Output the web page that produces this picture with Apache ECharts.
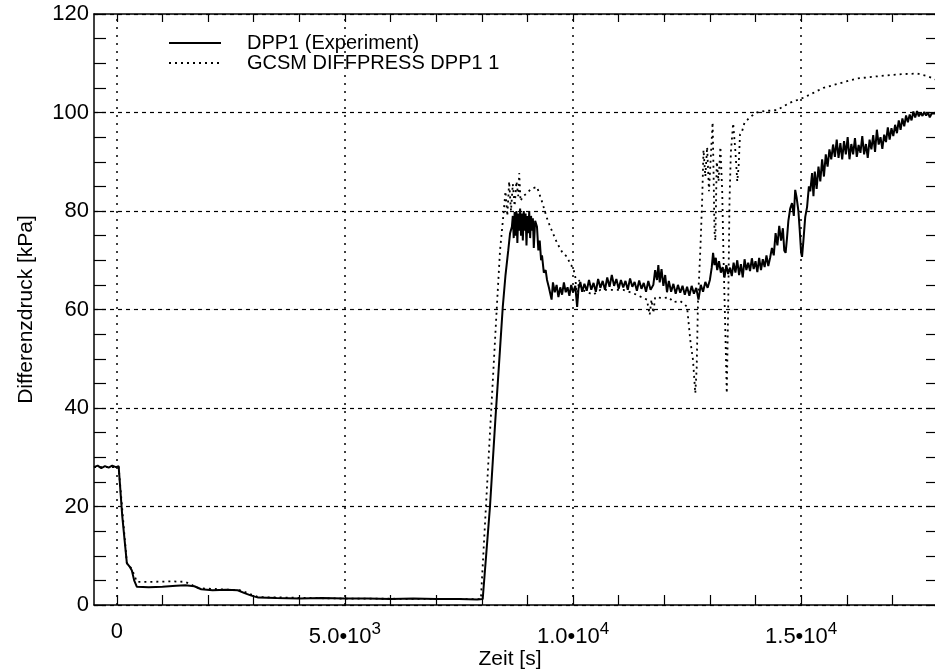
<!DOCTYPE html>
<html><head><meta charset="utf-8">
<script src="https://cdn.jsdelivr.net/npm/echarts@6/dist/echarts.min.js"></script>
<style>html,body{margin:0;padding:0;background:#fff}#c{width:935px;height:671px}</style>
</head><body><div id="c"></div>
<script>
const seriesNames = ['DPP1 (Experiment)', 'GCSM DIFFPRESS DPP1 1'];
const xLabelValues = [0, 5000, 10000, 15000];
const xLabelBase = ['0', '5.0•10', '1.0•10', '1.5•10'];
const xLabelExp = ['', '3', '4', '4'];
const xTickValues = [0,1000,2000,3000,4000,5000,6000,7000,8000,9000,10000,11000,12000,13000,14000,15000,16000,17000];

const expData = [
[-500,28.0],[-420,28.3],[-340,27.8],[-260,28.2],[-180,27.9],[-100,28.3],[-20,28.0],[40,28.2],[120,18],[220,8.5],[280,7.8],[330,7.0],[380,5.0],[440,3.7],[700,3.6],[1000,3.7],[1300,3.9],[1500,4.0],[1700,3.8],[1850,3.2],[2100,3.0],[2400,3.1],[2650,3.0],[2800,2.4],[2950,1.9],[3100,1.5],[3500,1.4],[4000,1.3],[4500,1.4],[5000,1.3],[5500,1.3],[6000,1.2],[6500,1.3],[7000,1.2],[7500,1.2],[7900,1.1],[8020,1.2],
[8180,20],[8300,38],[8400,52],[8460,60.5],[8520,67],[8580,72],[8620,75.5],[8660,76.8],
[8680,79],[8700,74.5],[8720,79.8],[8740,75],[8760,80],[8780,73.5],[8800,79.5],[8820,76],[8840,80.5],[8860,75],[8880,79.5],[8900,74],[8920,80],[8940,76],[8960,79.5],[8980,73],[9000,79],[9020,75.5],[9040,80],[9060,74.5],[9080,79],[9100,76],[9120,78.5],[9140,72.5],[9170,78],[9210,76.8],[9240,72],[9270,74],[9300,70],[9320,71],[9360,67.5],[9400,68],[9430,66],[9470,64.5],[9500,64.3],[9530,62],[9560,65.5],[9600,63.5],[9640,65],[9680,62.5],[9720,64.5],[9760,63],[9800,65.5],[9840,63.5],[9880,64.5],[9920,62.8],[9960,65],
[10000,63.5],[10050,64.8],[10090,60.5],[10120,64.2],[10160,65.6],[10200,63.6],[10250,65.2],[10300,63.8],[10350,66.0],[10400,64.0],[10450,65.4],[10500,63.6],[10550,66.2],[10600,64.4],[10650,65.8],[10700,64.0],[10750,66.5],[10800,64.6],[10850,67.0],[10900,64.8],[10950,66.2],[11000,64.2],[11050,66.0],[11100,64.5],[11150,65.8],[11200,64.0],[11250,66.3],[11300,64.6],[11350,65.6],[11400,63.8],[11450,65.9],[11500,64.2],[11550,65.4],[11600,63.6],[11650,65.8],[11700,64.0],[11760,65.0],[11800,68.0],[11840,66.0],[11870,69.0],[11900,65.5],[11940,68.2],[11980,64.8],[12020,67.0],[12060,63.5],[12100,65.8],[12150,63.6],[12200,65.2],[12250,63.2],[12300,65.0],[12350,63.4],[12400,64.8],[12450,63.0],[12500,64.6],[12550,62.8],[12600,64.8],[12650,63.2],[12700,64.4],[12750,62.0],[12800,65.0],[12850,63.6],[12900,65.6],[12950,64.4],[13000,66.0],
[13040,68.5],[13070,71.5],[13100,69.0],[13130,70.5],[13160,68.0],[13200,69.8],[13240,67.5],[13280,68.6],[13320,66.5],[13360,69.0],[13400,67.2],[13440,68.5],[13480,66.8],[13520,69.5],[13560,67.5],[13600,70.0],[13640,67.0],[13680,69.2],[13720,66.5],[13760,70.2],[13800,68.0],[13840,69.5],[13880,67.8],[13920,70.4],[13960,68.2],[14000,69.8],[14040,67.6],[14080,70.5],[14120,68.0],[14160,70.2],[14200,68.6],[14240,71.0],[14280,68.8],[14320,70.5],[14360,72.5],[14400,71.0],[14440,75.5],[14480,73.0],[14520,77.0],[14560,74.0],[14600,76.5],[14630,72.0],[14660,71.5],[14690,74.5],[14720,78.0],[14760,80.5],[14800,81.6],[14840,79.0],[14870,84.3],[14900,82.8],[14940,80.0],[14970,76.0],[15000,71.5],[15020,70.7],[15050,74.0],[15090,78.8],[15130,80.8],[15170,85.0],[15200,84.0],[15240,87.7],[15270,83.0],[15300,88.0],[15340,84.5],[15380,89.0],[15420,86.0],[15460,90.5],[15500,87.0],[15540,91.5],[15580,89.0],[15620,92.5],[15660,90.5],[15700,93.5],[15740,91.0],[15780,94.5],[15820,90.8],[15860,93.8],[15900,90.5],[15940,94.2],[15980,91.5],[16020,95.0],[16060,90.5],[16100,93.6],[16140,91.5],[16180,94.8],[16220,91.0],[16260,93.4],[16300,91.8],[16340,95.2],[16380,91.5],[16420,93.6],[16460,90.8],[16500,94.5],[16540,92.5],[16580,95.4],[16620,92.0],[16660,96.5],[16700,93.5],[16740,95.0],[16780,92.6],[16820,95.5],[16860,94.0],[16900,97.0],[16940,94.5],[16980,96.8],[17020,95.2],[17060,97.5],[17100,95.8],[17140,98.4],[17180,96.5],[17220,98.8],[17260,97.2],[17300,99.4],[17340,98.0],[17380,99.6],[17420,98.4],[17460,100.2],[17500,99.0],[17540,100.3],[17580,99.2],[17620,100.0],[17660,99.3],[17700,100.1],[17740,99.4],[17780,100.0],[17820,99.0],[17860,99.8],[17900,99.5],[17960,99.8],[18000,100.0]
];

const simData = [
[-500,28.0],[40,28.0],[220,8.5],[330,7.3],[440,4.7],[800,4.7],[1200,4.8],[1500,4.7],[1800,3.4],[2700,3.0],[3100,1.6],[5000,1.3],[7980,1.2],
[8330,60.5],[8400,72],[8470,78.8],[8520,84],[8560,79],[8600,86],[8640,80],[8680,85.5],[8720,81],[8760,86],[8800,83],[8820,87.7],[8850,82],[8900,83],[8980,83.5],[9080,84.5],[9210,84.9],[9320,81.9],[9430,78.5],[9500,76.8],[9650,73.5],[9770,71.5],[9870,70.7],[9950,69],[10000,68.6],[10050,66.6],[10090,61.5],[10130,66],[10200,64],[10440,63],[10600,64],[10900,64],[11100,64],[11320,63.3],[11620,62],[11680,58.9],[11720,62],[11760,59.3],[11800,62.5],[11970,62.3],[12100,62.5],[12200,61.5],[12350,61.7],[12450,61],
[12500,60.5],[12570,53.8],[12630,49.7],[12680,43],[12710,48],[12740,62],[12790,72],[12830,82],[12860,92.4],[12900,87],[12940,93],[12980,84],[13020,91],[13060,98],[13080,88],[13100,76],[13120,74],[13150,90],[13190,86],[13230,93],[13270,84],[13300,70],[13340,55],[13370,43],[13400,60],[13430,82],[13460,92],[13510,97.8],[13560,92],[13600,86],[13630,89],[13660,95.5],[13700,96],[13760,98],[13820,98.5],[13900,99.2],[14030,100],[14200,100.3],[14470,100.5],[14620,101.3],[14760,102],[15050,103],[15490,105],[15790,105.8],[16230,106.9],[16510,107.2],[16950,107.6],[17240,107.8],[17540,107.9],[17760,107.4],[17900,106.9],[18000,106.5]
];

const FONT = '"Liberation Sans", Arial, Helvetica, sans-serif';
const chart = echarts.init(document.getElementById('c'), null, {renderer: 'canvas'});
const axisLine = {show: true, onZero: false, lineStyle: {color: '#000', width: 1.5}};
const option = {
  backgroundColor: '#fff',
  animation: false,
  textStyle: {fontFamily: FONT, color: '#000'},
  grid: {left: 94, top: 14, width: 844, height: 591, containLabel: false, outerBoundsMode: 'none'},
  legend: {
    orient: 'vertical', left: 163, top: 28, itemWidth: 52, itemHeight: 14, itemGap: 0,
    data: seriesNames,
    itemStyle: {opacity: 0, borderWidth: 0},
    textStyle: {fontFamily: FONT, fontSize: 20, color: '#000', lineHeight: 19, padding: [0, 0, 0, 21]}
  },
  xAxis: [{
    type: 'value', position: 'bottom', min: -500, max: 18000,
    axisLine: axisLine,
    axisTick: {show: true, inside: true, length: 10, customValues: xTickValues, lineStyle: {color: '#000', width: 1.2}},
    axisLabel: {
      customValues: xLabelValues, margin: 16, color: '#000',
      formatter: function (v) {
        const i = xLabelValues.indexOf(v);
        if (i < 0) return '';
        return xLabelExp[i] ? '{b|' + xLabelBase[i] + '}{s|' + xLabelExp[i] + '}' : '{b|' + xLabelBase[i] + '}';
      },
      rich: {
        b: {fontSize: 22, fontFamily: FONT, color: '#000', verticalAlign: 'bottom'},
        s: {fontSize: 17, fontFamily: FONT, color: '#000', verticalAlign: 'bottom', padding: [0, 0, 10, 0]}
      }
    },
    splitLine: {show: false},
    name: 'Zeit [s]', nameLocation: 'middle', nameGap: 44, nameMoveOverlap: false,
    nameTextStyle: {fontSize: 21, fontFamily: FONT, color: '#000', padding: [0, 12, 0, 0]}
  }, {
    type: 'value', position: 'top', min: -500, max: 18000,
    axisLine: axisLine,
    axisTick: {show: true, inside: true, length: 8, customValues: xTickValues, lineStyle: {color: '#000', width: 1.2}},
    axisLabel: {show: false},
    splitLine: {show: false}
  }],
  yAxis: [{
    type: 'value', position: 'left', min: 0, max: 120, interval: 20,
    axisLine: axisLine,
    axisTick: {show: true, inside: true, length: 12, lineStyle: {color: '#000', width: 1.2}},
    minorTick: {show: true, splitNumber: 4, length: 12, lineStyle: {color: '#000', width: 1.2}},
    axisLabel: {fontSize: 22, fontFamily: FONT, color: '#000', margin: 5},
    splitLine: {show: true, lineStyle: {color: '#000', width: 1.2, type: [4, 4]}},
    name: 'Differenzdruck [kPa]', nameLocation: 'middle', nameGap: 57, nameMoveOverlap: false,
    nameTextStyle: {fontSize: 21, fontFamily: FONT, color: '#000'}
  }, {
    type: 'value', position: 'right', min: 0, max: 120, interval: 20,
    axisLine: axisLine,
    axisTick: {show: true, inside: true, length: 12, lineStyle: {color: '#000', width: 1.2}},
    minorTick: {show: true, splitNumber: 4, length: 12, lineStyle: {color: '#000', width: 1.2}},
    axisLabel: {show: false},
    splitLine: {show: false}
  }],
  series: [{
    name: seriesNames[0], type: 'line', data: expData, symbol: 'none', showSymbol: false,
    xAxisIndex: 0, yAxisIndex: 0,
    lineStyle: {color: '#000', width: 2}, itemStyle: {color: '#000'}, z: 3,
    markLine: {
      silent: true, symbol: ['none', 'none'], label: {show: false},
      lineStyle: {color: '#000', width: 1.5, type: [2, 6]},
      data: xLabelValues.map(function (v) { return {xAxis: v}; })
    }
  }, {
    name: seriesNames[1], type: 'line', data: simData, symbol: 'none', showSymbol: false,
    xAxisIndex: 0, yAxisIndex: 0,
    lineStyle: {color: '#000', width: 1.8, type: [2, 4]}, itemStyle: {color: '#000'}, z: 4
  }]
};
chart.setOption(option);
</script></body></html>
